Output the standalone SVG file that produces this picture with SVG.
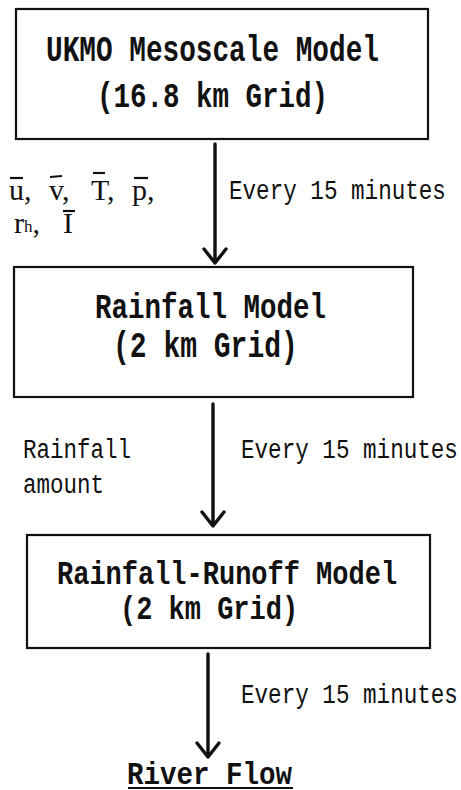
<svg xmlns="http://www.w3.org/2000/svg" width="461" height="790" viewBox="0 0 461 790">
<style>
.box{fill:#fff;stroke:#111;stroke-width:2.2}
.t{font-family:"Liberation Mono",monospace;fill:#111;font-weight:bold}
.l{font-family:"Liberation Mono",monospace;fill:#111}
.s{font-family:"Liberation Serif",serif;fill:#111}
.c{stroke:#111;stroke-width:3.4;fill:none;stroke-linecap:round;stroke-linejoin:round}
.bar{stroke:#111;stroke-width:2.2}
</style>
<rect width="461" height="790" fill="#fff"/>
<g id="n1">
<rect class="box" x="16" y="9" width="412" height="130"/>
<text class="t" transform="translate(46,61) scale(1,1.3)" font-size="27.75">UKMO Mesoscale Model</text>
<text class="t" transform="translate(97,107) scale(1,1.3)" font-size="27.5">(16.8 km Grid)</text>
</g>
<g id="n2">
<rect class="box" x="14" y="267" width="399" height="130"/>
<text class="t" transform="translate(95,318) scale(1,1.3)" font-size="27.5">Rainfall Model</text>
<text class="t" transform="translate(113,357) scale(1,1.3)" font-size="28">(2 km Grid)</text>
</g>
<g id="n3">
<rect class="box" x="27" y="535" width="403" height="113"/>
<text class="t" transform="translate(57,584) scale(1,1.25)" font-size="27">Rainfall-Runoff Model</text>
<text class="t" transform="translate(120,619) scale(1,1.25)" font-size="27">(2 km Grid)</text>
</g>
<g id="n4">
<text class="t" transform="translate(127,784) scale(1,1.12)" font-size="27.5">River Flow</text>
<line x1="128" y1="788" x2="293" y2="788" stroke="#111" stroke-width="2.2"/>
</g>
<g id="connectors">
<path class="c" d="M215 144 V263 M204 249 L215 263 L226 249"/>
<path class="c" d="M213 404 V526 M202 512 L213 526 L224 512"/>
<path class="c" d="M208 654 V757 M197 743 L208 757 L219 743"/>
</g>
<g id="labels">
<text class="l" transform="translate(229,199) scale(1,1.2)" font-size="22.6">Every 15 minutes</text>
<text class="l" transform="translate(241,458) scale(1,1.2)" font-size="22.6">Every 15 minutes</text>
<text class="l" transform="translate(241,703) scale(1,1.2)" font-size="22.6">Every 15 minutes</text>
<text class="l" transform="translate(23,458) scale(1,1.2)" font-size="22.5">Rainfall</text>
<text class="l" transform="translate(23,493) scale(1,1.2)" font-size="22.5">amount</text>
<text class="s" x="9" y="200" font-size="30">u,</text>
<text class="s" x="49" y="200" font-size="30">v,</text>
<text class="s" x="91" y="200" font-size="30">T,</text>
<text class="s" x="132" y="200" font-size="30">p,</text>
<text class="s" x="14" y="233" font-size="30">r<tspan font-size="17" dy="-1">h</tspan><tspan dy="1">,</tspan></text>
<text class="s" x="63" y="233" font-size="30">I</text>
<line class="bar" x1="10" y1="178" x2="23" y2="178"/>
<line class="bar" x1="50" y1="177" x2="62" y2="176"/>
<line class="bar" x1="93" y1="173" x2="105" y2="173"/>
<line class="bar" x1="134" y1="178" x2="148" y2="178"/>
<line class="bar" x1="63" y1="211" x2="75" y2="211"/>
</g>
</svg>
